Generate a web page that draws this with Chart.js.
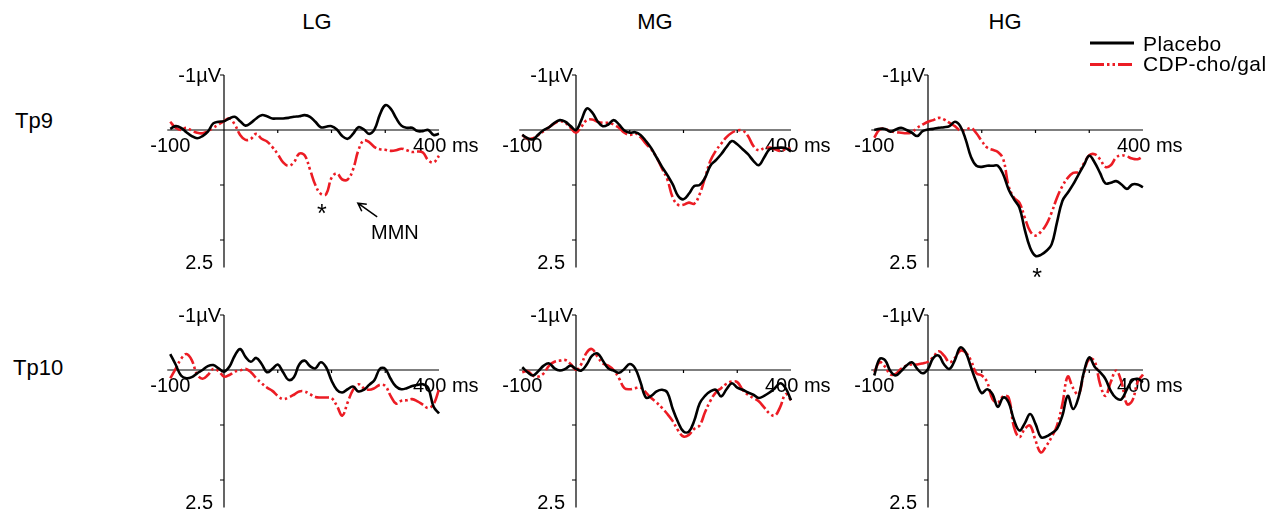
<!DOCTYPE html>
<html>
<head>
<meta charset="utf-8">
<script src="https://cdn.jsdelivr.net/npm/chart.js@4.4.0/dist/chart.umd.min.js"></script>
<style>
  html, body { margin: 0; padding: 0; background: #fff; }
  body { width: 1269px; height: 515px; position: relative; overflow: hidden;
         font-family: "Liberation Sans", Arial, Helvetica, sans-serif; color: #000; }
  canvas { position: absolute; }
  .lbl { position: absolute; white-space: nowrap; line-height: 1; }
  .head { font-size: 22px; transform: translateX(-50%); }
  .site { font-size: 22px; }
  .key { font-size: 21px; letter-spacing: 0.4px; }
</style>
</head>
<body>
<script>
// time points (ms) shared by every waveform
const times = [-100, -90, -80, -70, -60, -50, -40, -30, -20, -10,
  0, 10, 20, 30, 40, 50, 60, 70, 80, 90,
  100, 110, 120, 130, 140, 150, 160, 170, 180, 190,
  200, 210, 220, 230, 240, 250, 260, 270, 280, 290,
  300, 310, 320, 330, 340, 350, 360, 370, 380, 390, 400];

const groups = ['LG', 'MG', 'HG'];
const sites = ['Tp9', 'Tp10'];
const seriesNames = ['Placebo', 'CDP-cho/gal'];

// amplitudes in µV (negative plotted upward)
const lgTp9Placebo = [-0.02, -0.07, -0.04, 0.04, 0.11, 0.15, 0.11, 0.03, -0.12, -0.15,
  -0.16, -0.21, -0.24, -0.16, -0.08, -0.13, -0.21, -0.27, -0.25, -0.21,
  -0.21, -0.21, -0.22, -0.24, -0.25, -0.27, -0.24, -0.15, -0.05, -0.06,
  -0.07, -0.01, 0.11, 0.16, 0.07, -0.05, -0.01, 0.07, -0.01, -0.28,
  -0.45, -0.39, -0.22, -0.08, -0.04, -0.04, 0.02, 0.02, 0, 0.09, 0.07];
const lgTp9Cdp = [-0.15, -0.04, 0, -0.04, 0.01, 0.05, 0.06, 0.02, -0.04, -0.10,
  -0.16, -0.21, -0.10, 0.09, 0.18, 0.16, 0.07, 0.16, 0.21, 0.31,
  0.44, 0.59, 0.65, 0.59, 0.43, 0.46, 0.72, 1.0, 1.16, 1.17,
  0.87, 0.79, 0.90, 0.90, 0.72, 0.37, 0.19, 0.22, 0.31, 0.35,
  0.36, 0.38, 0.37, 0.34, 0.37, 0.40, 0.39, 0.41, 0.55, 0.59, 0.47];

const mgTp9Placebo = [0.09, 0.15, 0.17, 0.08, 0, -0.05, -0.13, -0.18, -0.15, -0.07,
  0, -0.18, -0.39, -0.32, -0.16, -0.07, -0.10, -0.18, -0.10, 0.01,
  0.05, 0.04, 0.09, 0.20, 0.33, 0.50, 0.67, 0.82, 0.99, 1.20,
  1.26, 1.16, 1.02, 1.0, 0.87, 0.65, 0.55, 0.44, 0.31, 0.20,
  0.26, 0.35, 0.44, 0.56, 0.64, 0.50, 0.35, 0.33, 0.32, 0.33, 0.39];
const mgTp9Cdp = [0.09, 0.16, 0.15, 0.09, 0.02, -0.05, -0.12, -0.16, -0.13, -0.04,
  0.05, -0.06, -0.18, -0.19, -0.15, -0.13, -0.13, -0.10, -0.04, 0.05,
  0.09, 0.06, 0.13, 0.25, 0.35, 0.50, 0.70, 0.90, 1.23, 1.36,
  1.36, 1.32, 1.34, 1.17, 0.87, 0.56, 0.38, 0.25, 0.13, 0.05,
  0.01, 0.01, 0.11, 0.29, 0.37, 0.33, 0.32, 0.35, 0.38, 0.35, 0.33];

const hgTp9Placebo = [0, -0.02, -0.02, 0.03, -0.01, -0.04, 0, 0.05, 0.11, 0.02,
  -0.01, -0.02, -0.04, -0.05, -0.07, -0.15, -0.07, 0.17, 0.49, 0.65,
  0.67, 0.65, 0.65, 0.65, 0.81, 1.08, 1.26, 1.41, 1.81, 2.14,
  2.29, 2.27, 2.20, 2.08, 1.68, 1.29, 1.14, 0.99, 0.81, 0.64,
  0.47, 0.59, 0.78, 0.97, 0.96, 0.93, 0.99, 1.07, 0.99, 0.99, 1.04];
const hgTp9Cdp = [0.14, -0.01, -0.02, 0.02, 0.04, 0.05, 0.06, 0.04, -0.04, -0.10,
  -0.15, -0.18, -0.22, -0.19, -0.13, -0.07, 0.01, 0, -0.04, 0.06,
  0.20, 0.32, 0.36, 0.40, 0.53, 1.02, 1.23, 1.32, 1.59, 1.84,
  1.92, 1.85, 1.72, 1.50, 1.23, 1.02, 0.87, 0.78, 0.76, 0.61,
  0.46, 0.44, 0.53, 0.67, 0.64, 0.50, 0.46, 0.48, 0.52, 0.53, 0.48];

const lgTp10Placebo = [-0.29, -0.10, 0.10, 0.15, 0.13, 0.06, 0, -0.07, -0.09, -0.03,
  0.03, -0.06, -0.26, -0.38, -0.24, -0.15, -0.22, -0.11, 0.04, -0.02,
  -0.10, 0.04, 0.18, 0.13, -0.10, -0.17, -0.07, -0.03, -0.14, -0.05,
  0.19, 0.36, 0.41, 0.35, 0.30, 0.39, 0.36, 0.27, 0.18, -0.02,
  -0.02, 0.16, 0.30, 0.35, 0.33, 0.29, 0.27, 0.26, 0.33, 0.67, 0.79];
const lgTp10Cdp = [0.15, -0.02, -0.20, -0.29, -0.18, 0.08, 0.16, 0.09, -0.02, 0.02,
  0.12, 0.09, 0.03, 0.01, -0.02, 0.04, 0.15, 0.24, 0.32, 0.38,
  0.47, 0.53, 0.50, 0.45, 0.39, 0.39, 0.44, 0.49, 0.50, 0.50,
  0.51, 0.65, 0.83, 0.59, 0.36, 0.26, 0.33, 0.36, 0.33, 0.27,
  0.29, 0.47, 0.61, 0.56, 0.55, 0.53, 0.57, 0.63, 0.69, 0.62, 0.35];

const mgTp10Placebo = [-0.05, 0.04, 0.10, 0.02, -0.08, -0.12, -0.03, 0.01, -0.02, -0.08,
  -0.02, 0.01, -0.10, -0.26, -0.30, -0.17, -0.03, 0.01, 0.05, -0.02,
  -0.11, -0.03, 0.22, 0.50, 0.47, 0.39, 0.36, 0.41, 0.71, 0.95,
  1.12, 1.12, 0.92, 0.61, 0.47, 0.39, 0.36, 0.48, 0.35, 0.24,
  0.32, 0.36, 0.41, 0.45, 0.51, 0.47, 0.41, 0.33, 0.24, 0.33, 0.55];
const mgTp10Cdp = [0.04, 0.02, 0.10, 0.12, 0.06, -0.08, -0.15, -0.17, -0.18, -0.11,
  0, -0.11, -0.32, -0.38, -0.24, -0.12, -0.08, 0, 0.15, 0.33,
  0.35, 0.33, 0.32, 0.41, 0.51, 0.59, 0.69, 0.80, 0.93, 1.10,
  1.21, 1.18, 1.07, 1.01, 0.77, 0.56, 0.41, 0.33, 0.25, 0.21,
  0.22, 0.36, 0.45, 0.51, 0.57, 0.68, 0.79, 0.83, 0.67, 0.44, 0.55];

const hgTp10Placebo = [0.10, -0.20, -0.18, 0.02, 0.10, 0.02, -0.08, -0.14, -0.02, 0.06,
  -0.02, -0.22, -0.26, -0.10, -0.02, -0.18, -0.41, -0.32, -0.05, 0.22,
  0.42, 0.35, 0.44, 0.67, 0.50, 0.59, 0.91, 1.10, 0.97, 0.80,
  0.98, 1.22, 1.21, 1.15, 1.07, 0.83, 0.47, 0.71, 0.50, 0.04,
  -0.23, -0.06, 0.04, 0.16, 0.38, 0.51, 0.53, 0.35, 0.19, 0.16, 0.22];
const hgTp10Cdp = [0.04, -0.14, -0.06, 0.08, 0.07, -0.02, -0.08, -0.10, -0.10, -0.12,
  -0.15, -0.24, -0.34, -0.26, -0.14, -0.22, -0.35, -0.32, -0.17, 0.06,
  0.10, 0.22, 0.53, 0.59, 0.48, 0.50, 1.04, 1.22, 1.07, 1.01,
  1.28, 1.50, 1.38, 1.22, 1.01, 0.62, 0.12, 0.33, 0.45, 0.06,
  -0.20, -0.16, 0.25, 0.47, 0.22, 0.01, 0.22, 0.62, 0.56, 0.22, 0.08];

// axis range and labels
const xMin = -100, xMax = 400;
const yMin = -1, yMax = 2.5;
const xTicks = [100, 200, 300];
const yTicks = [-1, 1, 2];
const yTopLabel = '-1µV';
const yBottomLabel = '2.5';
const xStartLabel = '-100';
const xEndLabel = '400 ms';

const FONT = '"Liberation Sans", Arial, Helvetica, sans-serif';
const BLACK = '#000000';
const RED = '#ec1c24';
const RED_DASH = [14, 3, 2.5, 3, 2.5, 3];

// page position of (0 ms, 0 µV) for each column / row
const colX0 = [223.5, 576, 927.5];
const rowY0 = [130, 369.5];
const PX_PER_MS = 0.5375;
const PX_PER_UV = 55;

const panels = [
  { col: 0, row: 0, placebo: lgTp9Placebo, cdp: lgTp9Cdp,
    notes: [{ kind: 'star', x: 182, y: 1.42 },
            { kind: 'arrow', x1: 285, y1: 1.58, x2: 249, y2: 1.33 },
            { kind: 'text', text: 'MMN', x: 318, y: 1.89 }] },
  { col: 1, row: 0, placebo: mgTp9Placebo, cdp: mgTp9Cdp, notes: [] },
  { col: 2, row: 0, placebo: hgTp9Placebo, cdp: hgTp9Cdp,
    notes: [{ kind: 'star', x: 203, y: 2.58 }] },
  { col: 0, row: 1, placebo: lgTp10Placebo, cdp: lgTp10Cdp, notes: [] },
  { col: 1, row: 1, placebo: mgTp10Placebo, cdp: mgTp10Cdp, notes: [] },
  { col: 2, row: 1, placebo: hgTp10Placebo, cdp: hgTp10Cdp, notes: [] }
];

// zero-crossing axes, sparse ticks and the end labels, drawn under the traces
const erpAxes = {
  id: 'erpAxes',
  beforeDatasetsDraw(chart) {
    const { ctx, scales: { x, y } } = chart;
    const x0 = x.getPixelForValue(0), y0 = y.getPixelForValue(0);
    const yTop = y.getPixelForValue(yMin), yBot = y.getPixelForValue(yMax);
    ctx.save();
    ctx.strokeStyle = '#000';
    ctx.lineWidth = 1.2;
    ctx.beginPath();
    ctx.moveTo(x0, yTop); ctx.lineTo(x0, yBot);
    ctx.moveTo(x.getPixelForValue(xMin) - 3, y0); ctx.lineTo(x.getPixelForValue(xMax), y0);
    yTicks.forEach(v => { const p = y.getPixelForValue(v); ctx.moveTo(x0 - 4, p); ctx.lineTo(x0, p); });
    xTicks.forEach(v => { const p = x.getPixelForValue(v); ctx.moveTo(p, y0); ctx.lineTo(p, y0 + 3); });
    ctx.stroke();

    ctx.fillStyle = '#000';
    ctx.font = '20px ' + FONT;
    ctx.textBaseline = 'alphabetic';
    ctx.textAlign = 'right';
    ctx.fillText(yTopLabel, x0 - 3, yTop + 7);
    ctx.fillText(yBottomLabel, x0 - 11, yBot + 1);
    ctx.textAlign = 'center';
    ctx.fillText(xStartLabel, x.getPixelForValue(xMin), y0 + 22);
    ctx.textAlign = 'left';
    ctx.fillText(xEndLabel, x.getPixelForValue(xMax) - 26, y0 + 22);
    ctx.restore();
  },
  afterDatasetsDraw(chart, args, opts) {
    const { ctx, scales: { x, y } } = chart;
    ctx.save();
    ctx.fillStyle = '#000';
    ctx.strokeStyle = '#000';
    (opts.notes || []).forEach(n => {
      if (n.kind === 'star') {
        ctx.font = '25px ' + FONT;
        ctx.textAlign = 'center';
        ctx.textBaseline = 'alphabetic';
        ctx.fillText('*', x.getPixelForValue(n.x), y.getPixelForValue(n.y) + 14);
      } else if (n.kind === 'text') {
        ctx.font = '20px ' + FONT;
        ctx.textAlign = 'center';
        ctx.textBaseline = 'middle';
        ctx.fillText(n.text, x.getPixelForValue(n.x), y.getPixelForValue(n.y));
      } else if (n.kind === 'arrow') {
        const ax = x.getPixelForValue(n.x1), ay = y.getPixelForValue(n.y1);
        const bx = x.getPixelForValue(n.x2), by = y.getPixelForValue(n.y2);
        const ang = Math.atan2(by - ay, bx - ax);
        ctx.lineWidth = 1.5;
        ctx.beginPath();
        ctx.moveTo(ax, ay); ctx.lineTo(bx, by);
        ctx.moveTo(bx - 9 * Math.cos(ang - 0.5), by - 9 * Math.sin(ang - 0.5));
        ctx.lineTo(bx, by);
        ctx.lineTo(bx - 9 * Math.cos(ang + 0.5), by - 9 * Math.sin(ang + 0.5));
        ctx.stroke();
      }
    });
    ctx.restore();
  }
};

const toPoints = vals => times.map((t, i) => ({ x: t, y: vals[i] }));

const CW = 345, CH = 235;
const charts = [];
panels.forEach(p => {
  const left = colX0[p.col] - 80, top = rowY0[p.row] - 75;
  const cv = document.createElement('canvas');
  cv.width = CW; cv.height = CH;
  cv.style.left = left + 'px'; cv.style.top = top + 'px';
  document.body.appendChild(cv);
  const padLeft = 80 - (0 - xMin) * PX_PER_MS;
  const padRight = CW - 80 - (xMax - 0) * PX_PER_MS;
  const padTop = 75 - (0 - yMin) * PX_PER_UV;
  const padBottom = CH - 75 - (yMax - 0) * PX_PER_UV;
  charts.push(new Chart(cv.getContext('2d'), {
    type: 'line',
    data: {
      datasets: [
        { label: seriesNames[0], data: toPoints(p.placebo), borderColor: BLACK,
          borderWidth: 2.6, borderDash: [] },
        { label: seriesNames[1], data: toPoints(p.cdp), borderColor: RED,
          borderWidth: 2.6, borderDash: RED_DASH }
      ]
    },
    options: {
      responsive: false,
      animation: false,
      devicePixelRatio: 1,
      layout: { padding: { left: padLeft, right: padRight, top: padTop, bottom: padBottom } },
      elements: { point: { radius: 0 }, line: { tension: 0.4, fill: false } },
      datasets: { line: { clip: false } },
      scales: {
        x: { type: 'linear', min: xMin, max: xMax, display: false },
        y: { type: 'linear', min: yMin, max: yMax, reverse: true, display: false }
      },
      plugins: {
        legend: { display: false },
        tooltip: { enabled: false },
        erpAxes: { notes: p.notes }
      }
    },
    plugins: [erpAxes]
  }));
});

// column and row headings
const headX = [317, 655, 1005];
groups.forEach((g, i) => {
  const d = document.createElement('div');
  d.className = 'lbl head';
  d.textContent = g;
  d.style.left = headX[i] + 'px';
  d.style.top = '10.5px';
  document.body.appendChild(d);
});
const siteLeft = [15, 13];
const siteTop = [109.5, 356.5];
sites.forEach((s, i) => {
  const d = document.createElement('div');
  d.className = 'lbl site';
  d.textContent = s;
  d.style.left = siteLeft[i] + 'px';
  d.style.top = siteTop[i] + 'px';
  document.body.appendChild(d);
});

// legend: line samples styled from the datasets, names as text
const lg = document.createElement('canvas');
lg.width = 60; lg.height = 45;
lg.style.left = '1085px'; lg.style.top = '30px';
document.body.appendChild(lg);
const lctx = lg.getContext('2d');
const keyY = [13, 34.5];
charts[0].data.datasets.forEach((ds, i) => {
  lctx.save();
  lctx.strokeStyle = ds.borderColor;
  lctx.lineWidth = 2.8;
  lctx.setLineDash(ds.borderDash);
  lctx.beginPath();
  lctx.moveTo(5, keyY[i]); lctx.lineTo(49, keyY[i]);
  lctx.stroke();
  lctx.restore();
  const d = document.createElement('div');
  d.className = 'lbl key';
  d.textContent = ds.label;
  d.style.left = '1143px';
  d.style.top = (i === 0 ? 32.5 : 53.2) + 'px';
  document.body.appendChild(d);
});
</script>
</body>
</html>
